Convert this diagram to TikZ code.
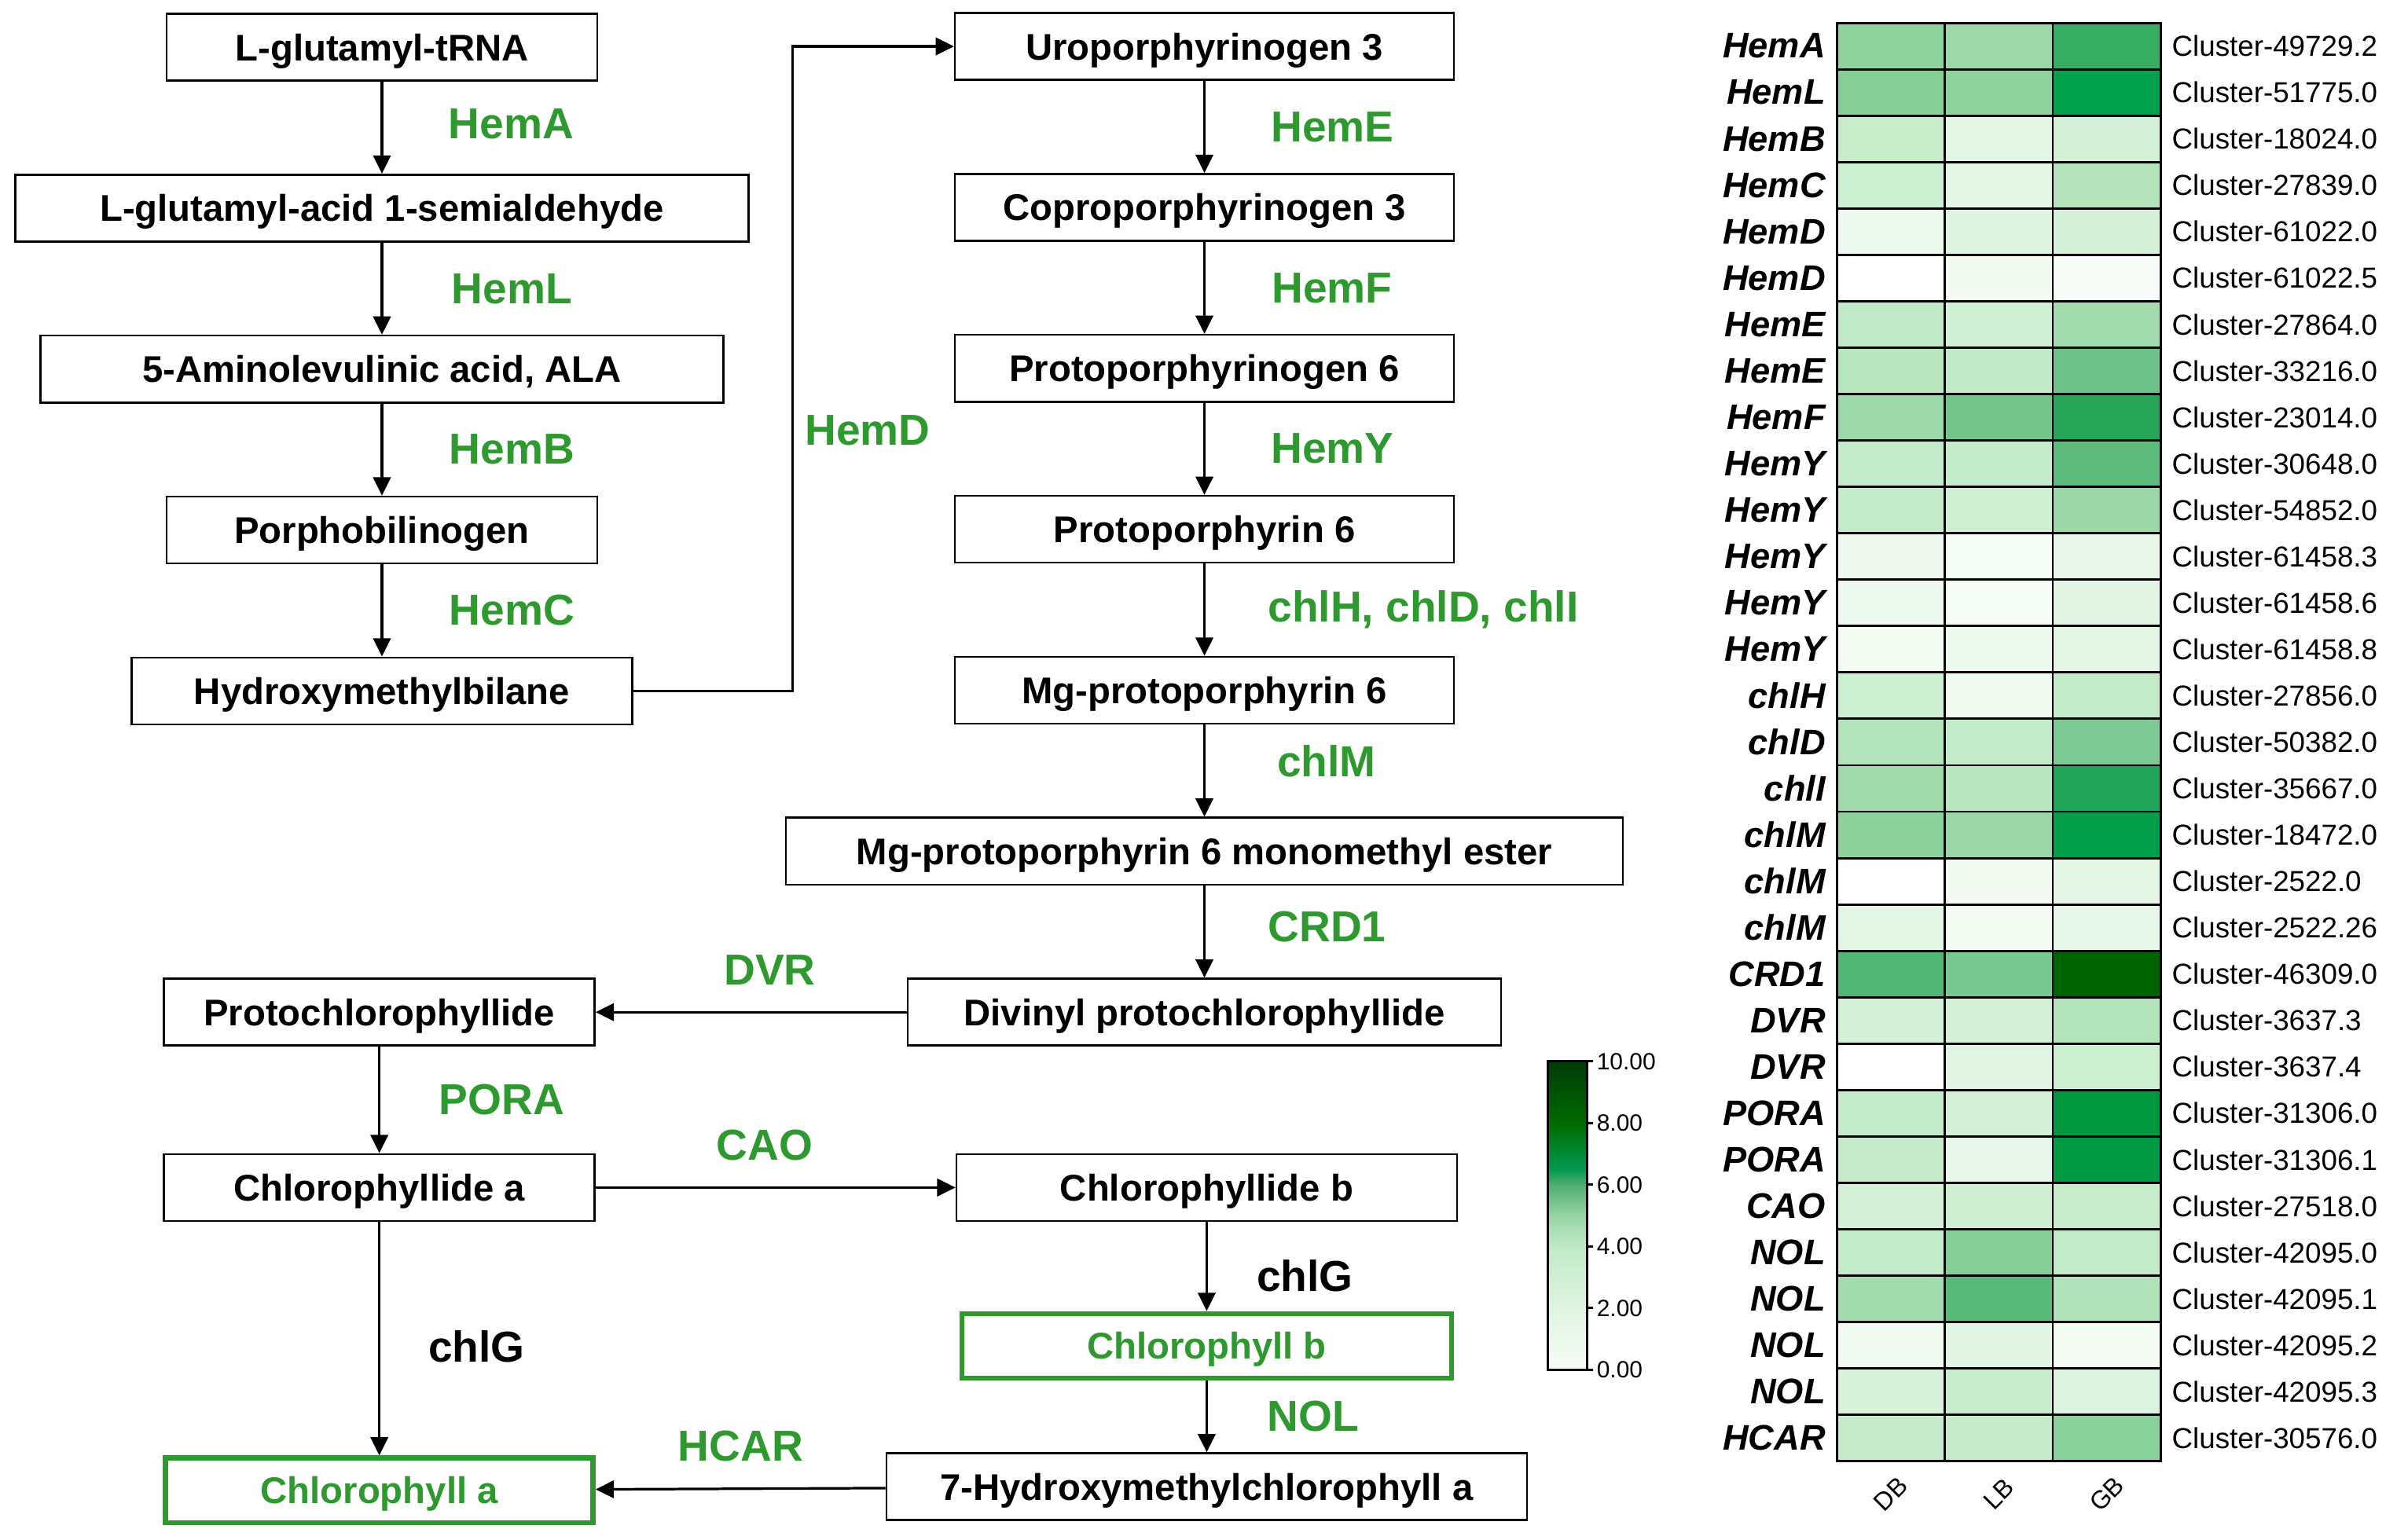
\documentclass[tikz,border=0pt]{standalone}
\usepackage{fontspec}
\setmainfont{Liberation Sans}
\usetikzlibrary{positioning,arrows.meta}
\definecolor{enzgreen}{HTML}{2E992E}

\begin{document}
\begin{tikzpicture}[x=0.02cm, y=-0.02cm, >={Triangle[length=0.24cm,width=0.23cm]},
	box/.style={draw, line width=0.75pt, minimum height=0.88cm, inner sep=2pt, text height=10pt, text depth=0pt, font=\bfseries\fontsize{13.9}{16}\selectfont},
	gbox/.style={box, draw=enzgreen, line width=1.9pt, minimum height=0.85cm, text=enzgreen},
	enz/.style={inner sep=0pt, text=enzgreen, font=\bfseries\fontsize{16.2}{19}\selectfont},
	blk/.style={enz, text=black},
	arr/.style={->, line width=0.95pt},
	hm/.style={anchor=east, inner sep=0pt, font=\bfseries\itshape\fontsize{13.3}{15}\selectfont},
	cl/.style={anchor=west, inner sep=0pt, font=\fontsize{10.8}{13}\selectfont},
	tk/.style={anchor=west, inner sep=0pt, font=\fontsize{8.8}{10}\selectfont}]
		\useasboundingbox (0,0) rectangle (1568,1012);

		\node[box, minimum width=5.66cm] (trna) at (251,31) {L-glutamyl-tRNA};
		\node[box, minimum width=9.64cm, below=1.21cm of trna] (gsa) {L-glutamyl-acid 1-semialdehyde};
		\node[box, minimum width=8.98cm, below=1.21cm of gsa] (ala) {5-Aminolevulinic acid, ALA};
		\node[box, minimum width=5.66cm, below=1.21cm of ala] (pbg) {Porphobilinogen};
		\node[box, minimum width=6.58cm, below=1.21cm of pbg] (hmb) {Hydroxymethylbilane};

		\node[box, minimum width=6.56cm] (uro) at (791.5,30.5) {Uroporphyrinogen 3};
		\node[box, minimum width=6.56cm, below=1.21cm of uro] (copro) {Coproporphyrinogen 3};
		\node[box, minimum width=6.56cm, below=1.21cm of copro] (protogen) {Protoporphyrinogen 6};
		\node[box, minimum width=6.56cm, below=1.21cm of protogen] (proto) {Protoporphyrin 6};
		\node[box, minimum width=6.56cm, below=1.21cm of proto] (mgp) {Mg-protoporphyrin 6};
		\node[box, minimum width=11cm, below=1.21cm of mgp] (mgpme) {Mg-protoporphyrin 6 monomethyl ester};
		\node[box, minimum width=7.8cm, below=1.21cm of mgpme] (dvp) {Divinyl protochlorophyllide};

		\node[box, minimum width=5.66cm, left=4.09cm of dvp] (pchl) {Protochlorophyllide};
		\node[box, minimum width=5.66cm, below=1.4cm of pchl] (chlda) {Chlorophyllide a};
		\node[gbox, minimum width=5.62cm, below=3.07cm of chlda] (chla) {Chlorophyll a};
		\node[box, minimum width=6.58cm, right=4.73cm of chlda] (chldb) {Chlorophyllide b};
		\node[gbox, minimum width=6.44cm, below=1.17cm of chldb] (chlb) {Chlorophyll b};
		\node[box, minimum width=8.42cm, below=0.94cm of chlb] (hchla) {7-Hydroxymethylchlorophyll a};

		\path[arr] (trna) edge node[enz, right=0.86cm, yshift=0.05cm] (lhema) {HemA} (gsa);
		\path[arr] (gsa) edge node[enz, right=0.9cm] (lheml) {HemL} (ala);
		\path[arr] (ala) edge node[enz, right=0.87cm] (lhemb) {HemB} (pbg);
		\path[arr] (pbg) edge node[enz, right=0.87cm] (lhemc) {HemC} (hmb);

		\coordinate (hd) at (521,450.8);
		\draw[arr] (hmb.east) -- (hmb.east -| hd) |- (uro);
		\node[enz, anchor=west] (lhemd) at (528.7,283) {HemD};

		\path[arr] (uro) edge node[enz, right=0.86cm] (lheme) {HemE} (copro);
		\path[arr] (copro) edge node[enz, right=0.87cm] (lhemf) {HemF} (protogen);
		\path[arr] (protogen) edge node[enz, right=0.86cm] (lhemy) {HemY} (proto);
		\path[arr] (proto) edge node[enz, right=0.82cm] (lchlh) {chlH, chlD, chlI} (mgp);
		\path[arr] (mgp) edge node[enz, right=0.94cm, yshift=0.12cm] (lchlm) {chlM} (mgpme);
		\path[arr] (mgpme) edge node[enz, right=0.82cm, yshift=0.06cm] (lcrd) {CRD1} (dvp);

		\path[arr] (dvp) edge node[enz, pos=0.44, above=0.34cm] (ldvr) {DVR} (pchl);
		\path[arr] (pchl) edge node[enz, right=0.77cm] (lpora) {PORA} (chlda);
		\path[arr] (chlda) edge node[enz, pos=0.47, above=0.34cm] (lcao) {CAO} (chldb);
		\path[arr] (chlda) edge node[blk, right=0.63cm, yshift=-0.1cm] (lchlga) {chlG} (chla);
		\path[arr] (chldb) edge node[blk, right=0.64cm, yshift=-0.12cm] (lchlgb) {chlG} (chlb);
		\path[arr] (chlb) edge node[enz, right=0.78cm] (lnol) {NOL} (hchla);
		\path[arr] (hchla) edge node[enz, above=0.34cm] (lhcar) {HCAR} (chla);

		\foreach \va/\ka/\vb/\kb in {0/F7FCF5/2/E0F4E2, 2/E0F4E2/4/C0E9C6, 4/C0E9C6/5/97D4A4, 5/97D4A4/6/4FAE70, 6/4FAE70/6.5/009A50, 6.5/009A50/8/006B00, 8/006B00/10/003A08}{
			\edef\tmp{\noexpand\definecolor{lo}{HTML}{\ka}\noexpand\definecolor{hi}{HTML}{\kb}}\tmp
			\shade[bottom color=lo, top color=hi] (1017,900.3-\va*20.27) rectangle (1043,900.3-\vb*20.27);
		}
		\draw[line width=0.85pt] (1017,697.6) rectangle (1043,900.3);
		\foreach \v in {0,2,...,10}{
			\draw[line width=0.85pt] (1043,900.3-\v*20.27) -- ++(4,0);
			\node[tk] (t\v) at (1049,900.3-\v*20.27) {\v.00};
		}

		\foreach \g/\k/\ca/\cb/\cc [count=\i] in {HemA/49729.2/8FD49F/9DD8A9/38AE62, HemL/51775.0/86CF98/8FD39F/00A04C,
			HemB/18024.0/C6ECCA/E3F5E5/D4F0D6, HemC/27839.0/CDEFD2/E3F5E5/B5E4BC, HemD/61022.0/EEF9EF/DFF3E1/D6F0D9,
			HemD/61022.5/FFFFFF/F2FAF2/F8FCF8, HemE/27864.0/C1EAC8/D2F0D5/A2DCAE, HemE/33216.0/B7E6BF/C2EAC8/6CC288,
			HemF/23014.0/9DD8AA/73C58C/27A558, HemY/30648.0/C3EBC9/C5ECCA/5DBB7D, HemY/54852.0/C4EBC9/D0EFD3/9CD7A8,
			HemY/61458.3/EFF9F0/F6FCF6/E8F6EA, HemY/61458.6/EEF9EF/F6FCF6/E2F5E4, HemY/61458.8/F3FBF3/EEF9EF/E4F5E6,
			chlH/27856.0/CDEFD1/F0FAF1/C4EBC9, chlD/50382.0/B3E4BB/C4EBC9/7DCA95, chlI/35667.0/A0DAAC/B9E7C0/20A457,
			chlM/18472.0/8DD29D/9AD6A7/009E48, chlM/2522.0/FFFFFF/F2FAF2/E5F6E7, chlM/2522.26/E3F5E5/F3FBF3/E6F6E8,
			CRD1/46309.0/52B775/79C891/006400, DVR/3637.3/D6F1D9/D4F0D7/B4E4BC, DVR/3637.4/FFFFFF/E1F4E3/CCEFD0,
			PORA/31306.0/C4EBC9/D4F0D7/00983F, PORA/31306.1/C5EBCA/E8F7EA/009A44, CAO/27518.0/D4F0D7/CDEED1/C7ECCC,
			NOL/42095.0/C4EBC9/87CE99/C4EBC9, NOL/42095.1/A3DCAE/58B979/B0E3B9, NOL/42095.2/F0FAF1/E2F4E4/F3FBF3,
			NOL/42095.3/D9F2DC/C8EDCD/DCF3DF, HCAR/30576.0/C5EBCA/C5EBCA/8BD19C}{
			\pgfmathsetmacro\yt{15+(\i-1)*30.5}
			\edef\tmp{\noexpand\definecolor{hA}{HTML}{\ca}\noexpand\definecolor{hB}{HTML}{\cb}\noexpand\definecolor{hC}{HTML}{\cc}}\tmp
			\filldraw[fill=hA, line width=0.85pt] (1207,\yt) rectangle ++(71,30.5);
			\filldraw[fill=hB, line width=0.85pt] (1278,\yt) rectangle ++(71,30.5);
			\filldraw[fill=hC, line width=0.85pt] (1349,\yt) rectangle ++(71,30.5);
			\node[hm] (g\i) at (1200,\yt+15.25) {\g};
			\node[cl] (k\i) at (1427,\yt+15.25) {Cluster-\k};
		}
		\foreach \s [count=\j] in {DB,LB,GB}
			\node[rotate=45, inner sep=0pt, font=\fontsize{9.5}{11}\selectfont] (s\s) at (1171.5+71*\j,982) {\s};
	\end{tikzpicture}
\end{document}
